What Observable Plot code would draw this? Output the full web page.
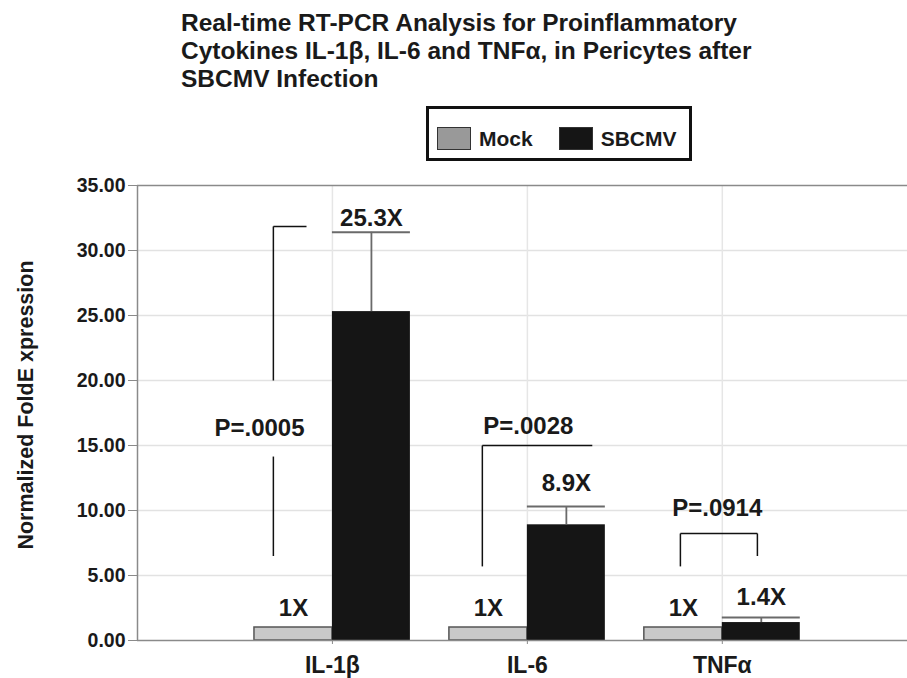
<!DOCTYPE html>
<html>
<head>
<meta charset="utf-8">
<script src="https://cdn.jsdelivr.net/npm/d3@7"></script>
<script src="https://cdn.jsdelivr.net/npm/@observablehq/plot@0.6"></script>
<style>
  body { margin: 0; background: #fff; font-family: "Liberation Sans", Arial, sans-serif; }
  #wrap { position: relative; width: 907px; height: 678px; overflow: hidden; }
  #title { position: absolute; left: 181px; top: 9px; font-weight: bold; font-size: 24.5px; line-height: 28px; color: #1a1a1a; white-space: nowrap; }
  #legend { position: absolute; left: 426px; top: 106px; width: 260px; height: 49px; box-sizing: content-box; border: 3px solid #111; display: flex; align-items: center; padding-top: 0; font-weight: bold; font-size: 21px; color: #1a1a1a; }
  #legend .row { display: flex; align-items: center; position: relative; top: 5px; }
  #ylabel { position: absolute; left: 26px; top: 405px; transform: translate(-50%, -50%) rotate(-90deg); font-weight: bold; font-size: 21.5px; color: #1a1a1a; white-space: nowrap; }
  .sw { display: inline-block; width: 34px; height: 23px; border: 1.5px solid #333; box-sizing: border-box; margin-right: 8px; }
  .item { display: flex; align-items: center; }
  #chart { position: absolute; left: 0; top: 0; }
</style>
</head>
<body>
<div id="wrap">
  <div id="chart"></div>
  <div id="title"></div>
  <div id="legend"></div>
  <div id="ylabel"></div>
</div>
<script>
// ---- data ----
const titleLines = [
  "Real-time RT-PCR Analysis for Proinflammatory",
  "Cytokines IL-1β, IL-6 and TNFα, in Pericytes after",
  "SBCMV Infection"
];
const yLabel = "Normalized FoldE xpression";
const categories = ["IL-1β", "IL-6", "TNFα"];
const seriesNames = ["Mock", "SBCMV"];
const mockValues = [1.0, 1.0, 1.0];
const sbcmvValues = [25.3, 8.9, 1.38];
const sbcmvErrors = [6.1, 1.4, 0.39];
const mockLabels = ["1X", "1X", "1X"];
const sbcmvLabels = ["25.3X", "8.9X", "1.4X"];
const pValues = ["P=.0005", "P=.0028", "P=.0914"];
const yTicks = [0, 5, 10, 15, 20, 25, 30, 35];
// significance bracket levels (data units)
const bracketTop = [31.85, 15.0, 8.23];
const bracketBottom = [6.5, 5.7, 5.7];
const pLabelY = [16.3, 16.5, 10.15];
const sbcmvLabelY = [32.5, 12.1, 3.3];
const mockLabelY = [2.45, 2.45, 2.45];

// ---- layout helpers ----
const colors = { Mock: "#999999", SBCMV: "#151515" };
const barW = 0.4;
const pos = categories.map((c, i) => i + 1);

document.getElementById("title").innerHTML = titleLines.join("<br>");
document.getElementById("ylabel").textContent = yLabel;
document.getElementById("legend").innerHTML =
  `<div class="row"><div class="item" style="margin-left:8px"><span class="sw" style="background:${colors.Mock}"></span>${seriesNames[0]}</div>` +
  `<div class="item" style="margin-left:26px"><span class="sw" style="background:${colors.SBCMV}"></span>${seriesNames[1]}</div></div>`;

const rows = categories.map((c, i) => ({
  cat: c, p: pos[i], mock: mockValues[i], sb: sbcmvValues[i], err: sbcmvErrors[i],
  top: sbcmvValues[i] + sbcmvErrors[i]
}));

// bracket segments
const segs = [];
// IL-1β: vertical with gap for label, short horizontal at top
segs.push({x1: 1 - 0.303, x2: 1 - 0.303, y1: 20.0, y2: bracketTop[0]});
segs.push({x1: 1 - 0.303, x2: 1 - 0.303, y1: bracketBottom[0], y2: 14.15});
segs.push({x1: 1 - 0.303, x2: 1 - 0.133, y1: bracketTop[0], y2: bracketTop[0]});
// IL-6
segs.push({x1: 2 - 0.231, x2: 2 - 0.231, y1: bracketBottom[1], y2: bracketTop[1]});
segs.push({x1: 2 - 0.231, x2: 2 + 0.333, y1: bracketTop[1], y2: bracketTop[1]});
// TNFα
segs.push({x1: 3 - 0.215, x2: 3 - 0.215, y1: bracketBottom[2], y2: bracketTop[2]});
segs.push({x1: 3 - 0.215, x2: 3 + 0.18, y1: bracketTop[2], y2: bracketTop[2]});
segs.push({x1: 3 + 0.18, x2: 3 + 0.18, y1: 6.5, y2: bracketTop[2]});

const pLabels = [
  {x: 1 - 0.374, y: pLabelY[0], t: pValues[0]},
  {x: 2 + 0.005, y: pLabelY[1], t: pValues[1]},
  {x: 3 - 0.026, y: pLabelY[2], t: pValues[2]}
];

const font = "Liberation Sans, Arial, sans-serif";
const chart = Plot.plot({
  width: 907,
  height: 678,
  marginTop: 185,
  marginBottom: 38,
  marginLeft: 137,
  marginRight: 0,
  style: { fontFamily: font, color: "#1a1a1a", background: "transparent" },
  x: { domain: [0, 3.95], axis: null },
  y: { domain: [0, 35], axis: null },
  marks: [
    Plot.gridY(yTicks.filter(d => d > 0 && d < 35), { stroke: "#e2e2e2", strokeOpacity: 1, strokeWidth: 1.5 }),
    Plot.gridX(pos, { stroke: "#e6e6e6", strokeOpacity: 1, strokeWidth: 1.5 }),
    Plot.ruleY([35], { stroke: "#8a8a8a", strokeWidth: 1.5 }),
    // bars
    Plot.rectY(rows, { x1: d => d.p - barW, x2: d => d.p, y1: 0, y2: "mock", fill: "#c9c9c9", stroke: "#555", strokeWidth: 1.5, inset: 0 }),
    Plot.rectY(rows, { x1: d => d.p, x2: d => d.p + barW, y1: 0, y2: "sb", fill: colors.SBCMV, inset: 0 }),
    // error bars
    Plot.ruleX(rows, { x: d => d.p + barW / 2, y1: "sb", y2: "top", stroke: "#6a6a6a", strokeWidth: 1.8 }),
    Plot.ruleY(rows, { y: "top", x1: d => d.p, x2: d => d.p + barW, stroke: "#6a6a6a", strokeWidth: 2 }),
    // axes
    Plot.ruleY([0], { stroke: "#8a8a8a", strokeWidth: 1.5 }),
    Plot.ruleX([0], { stroke: "#8a8a8a", strokeWidth: 1.5 }),
    Plot.axisY(yTicks, { tickSize: 9, tickPadding: 3, tickFormat: d => d.toFixed(2), fontSize: 19.5, fontWeight: "bold", stroke: "#8a8a8a", label: null }),
    Plot.axisX(pos, { tickSize: 4, tickPadding: 12, tickFormat: d => categories[d - 1], fontSize: 23, fontWeight: "bold", stroke: "#8a8a8a", label: null }),
    // brackets
    Plot.link(segs, { x1: "x1", x2: "x2", y1: "y1", y2: "y2", stroke: "#111", strokeWidth: 1.5 }),
    // labels
    Plot.text(rows, { x: d => d.p - barW / 2, y: (d, i) => mockLabelY[i], text: (d, i) => mockLabels[i], fontSize: 24, fontWeight: "bold", fill: "#1a1a1a" }),
    Plot.text(rows, { x: d => d.p + barW / 2, y: (d, i) => sbcmvLabelY[i], text: (d, i) => sbcmvLabels[i], fontSize: 24, fontWeight: "bold", fill: "#1a1a1a" }),
    Plot.text(pLabels, { x: "x", y: "y", text: "t", fontSize: 24, fontWeight: "bold", fill: "#1a1a1a" })
  ]
});
document.getElementById("chart").appendChild(chart);
</script>
</body>
</html>
